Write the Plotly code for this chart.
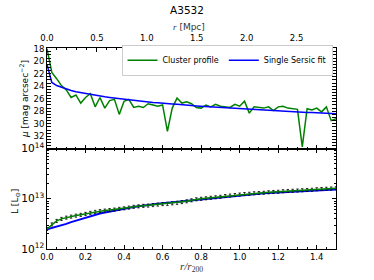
import plotly.graph_objects as go

# ---- data ----
r_r200 = [0.0, 0.025, 0.05, 0.075, 0.1, 0.125, 0.15, 0.175, 0.2, 0.225,
          0.25, 0.275, 0.3, 0.325, 0.35, 0.375, 0.4, 0.425, 0.45, 0.475,
          0.5, 0.525, 0.55, 0.575, 0.6, 0.625, 0.65, 0.675, 0.7, 0.725,
          0.75, 0.775, 0.8, 0.825, 0.85, 0.875, 0.9, 0.925, 0.95, 0.975,
          1.0, 1.025, 1.05, 1.075, 1.1, 1.125, 1.15, 1.175, 1.2, 1.225,
          1.25, 1.275, 1.3, 1.325, 1.35, 1.375, 1.4, 1.425, 1.45, 1.475, 1.5]

R200_MPC = 1.93  # r200 in Mpc (top axis scale)

mu_profile = [18.0, 21.8, 22.8, 23.9, 24.6, 25.8, 25.4, 26.7, 25.8, 25.2,
              27.3, 25.8, 27.5, 26.3, 26.1, 28.5, 26.4, 26.1, 27.4, 27.2,
              27.4, 26.8, 27.0, 27.2, 27.0, 31.2, 27.5, 25.9, 26.7, 26.5,
              26.8, 27.4, 27.5, 27.0, 27.3, 26.9, 27.2, 27.3, 27.4, 26.9,
              27.2, 26.4, 28.3, 27.3, 27.4, 27.5, 27.3, 27.9, 27.3, 27.2,
              27.5, 27.6, 27.7, 33.7, 27.6, 27.8, 27.5, 28.1, 27.3, 29.5, 29.2]

mu_sersic = [20.5, 23.4, 23.9, 24.2, 24.5, 24.7, 24.9, 25.05, 25.2, 25.35,
             25.5, 25.6, 25.7, 25.8, 25.9, 26.0, 26.1, 26.2, 26.3, 26.35,
             26.45, 26.5, 26.6, 26.65, 26.75, 26.8, 26.85, 26.9, 27.0, 27.05,
             27.1, 27.15, 27.2, 27.25, 27.3, 27.35, 27.4, 27.45, 27.5, 27.55,
             27.6, 27.65, 27.7, 27.75, 27.8, 27.8, 27.85, 27.9, 27.95, 28.0,
             28.0, 28.05, 28.1, 28.15, 28.2, 28.2, 28.25, 28.3, 28.3, 28.35, 28.4]

# cumulative luminosity, units of 1e12 Lsun
L_profile = [2.51, 3.09, 3.63, 3.98, 4.22, 4.42, 4.62, 4.79, 5.01, 5.25,
             5.50, 5.69, 5.82, 5.96, 6.10, 6.31, 6.46, 6.68, 6.92, 7.08,
             7.24, 7.33, 7.50, 7.67, 7.85, 7.94, 8.13, 8.32, 8.61, 8.91,
             9.33, 9.77, 10.00, 10.23, 10.47, 10.72, 10.96, 11.35, 11.61, 11.89,
             12.16, 12.45, 12.59, 12.88, 13.03, 13.18, 13.49, 13.65, 13.80, 14.13,
             14.29, 14.45, 14.62, 14.79, 14.96, 15.14, 15.49, 15.67, 15.85, 16.03, 16.22]

L_sersic = [2.455, 2.600, 2.754, 2.951, 3.162, 3.428, 3.673, 3.981, 4.266, 4.519,
            4.786, 5.070, 5.309, 5.559, 5.821, 6.095, 6.383, 6.607, 6.839, 7.079,
            7.328, 7.499, 7.762, 7.943, 8.128, 8.318, 8.511, 8.710, 8.913, 9.120,
            9.441, 9.661, 9.886, 10.12, 10.35, 10.59, 10.84, 11.09, 11.35, 11.61,
            11.89, 12.02, 12.30, 12.45, 12.59, 12.88, 13.03, 13.18, 13.49, 13.65,
            13.80, 13.96, 14.13, 14.29, 14.45, 14.62, 14.79, 14.96, 15.14, 15.14, 15.31]

L_err_percent = 7

GREEN = "#008000"
BLUE = "#0000ff"
FONT = "DejaVu Sans"

fig = go.Figure()

fig.add_trace(go.Scatter(x=r_r200, y=mu_profile, xaxis="x2", yaxis="y2",
                         mode="lines", name="Cluster profile",
                         line=dict(color=GREEN, width=1.5)))
fig.add_trace(go.Scatter(x=r_r200, y=mu_sersic, xaxis="x2", yaxis="y2",
                         mode="lines", name="Single Sersic fit",
                         line=dict(color=BLUE, width=1.5)))
# same fit expressed in Mpc, invisible: it only makes the top (Mpc) axis render
fig.add_trace(go.Scatter(x=[v * R200_MPC for v in r_r200], y=mu_sersic,
                         xaxis="x3", yaxis="y2", mode="lines", opacity=0,
                         showlegend=False, hoverinfo="skip",
                         line=dict(color=BLUE, width=1)))

fig.add_trace(go.Scatter(x=r_r200, y=[v * 1e12 for v in L_sersic], xaxis="x", yaxis="y",
                         mode="lines", showlegend=False,
                         line=dict(color=BLUE, width=2)))
fig.add_trace(go.Scatter(x=r_r200, y=[v * 1e12 for v in L_profile], xaxis="x", yaxis="y",
                         mode="lines", showlegend=False,
                         line=dict(color=GREEN, width=1.5),
                         error_y=dict(type="percent", value=L_err_percent,
                                      color="black", thickness=0.8, width=1.2)))

tickfont = dict(family=FONT, size=8.5, color="black")
common = dict(showline=True, linecolor="black", linewidth=1, showgrid=False,
              zeroline=False, ticks="inside", tickcolor="black", ticklen=4,
              tickwidth=0.8, tickfont=tickfont)

fig.update_layout(
    width=374, height=280,
    margin=dict(l=47, r=38, t=48, b=31),
    paper_bgcolor="white", plot_bgcolor="white",
    font=dict(family=FONT, size=9, color="black"),
    title=dict(text="A3532", x=0.5, xref="container", xanchor="center",
               y=1 - 10 / 280, yref="container", yanchor="middle",
               font=dict(family=FONT, size=10.5, color="black")),
    xaxis=dict(domain=[0, 1], range=[0, 1.5], anchor="y", dtick=0.2, tick0=0,
               tickformat=".1f", mirror="allticks",
               minor=dict(dtick=0.05, ticks="inside", ticklen=2, tickcolor="black"),
               **common),
    yaxis=dict(domain=[0, 0.5], type="log", range=[12, 14], anchor="x",
               dtick=1, exponentformat="power", mirror="allticks",
               minor=dict(dtick="D1", ticks="inside", ticklen=2, tickcolor="black"),
               **common),
    xaxis2=dict(domain=[0, 1], range=[0, 1.5], anchor="y2", matches="x",
                showticklabels=False, dtick=0.2, tick0=0,
                minor=dict(dtick=0.05, ticks="inside", ticklen=2, tickcolor="black"),
                **common),
    yaxis2=dict(domain=[0.5, 1], range=[33.95, 17.9], anchor="x2", dtick=2, tick0=18,
                mirror="allticks",
                minor=dict(dtick=0.5, ticks="inside", ticklen=2, tickcolor="black"),
                **common),
    xaxis3=dict(overlaying="x2", side="top", anchor="y2",
                range=[0, 1.5 * R200_MPC], dtick=0.5, tick0=0, tickformat=".1f",
                ticklabelstandoff=3,
                minor=dict(dtick=0.1, ticks="inside", ticklen=2, tickcolor="black"),
                **common),
    legend=dict(orientation="h", x=0.988, xanchor="right", y=1.016, yanchor="top",
                xref="paper", yref="paper",
                bgcolor="white", bordercolor="#cccccc", borderwidth=1,
                font=dict(family=FONT, size=8, color="black"), itemwidth=30),
    annotations=[
        dict(text="<span style=\"font-family:Liberation Serif\"><i>r</i></span> [Mpc]",
             xref="paper", yref="paper",
             x=0.491, y=(249 - 27) / 201, xanchor="center", yanchor="middle",
             showarrow=False, font=dict(family=FONT, size=9, color="#333333")),
        dict(text="<i>r/r</i><sub>200</sub>", xref="paper", yref="paper",
             x=0.5, y=(249 - 266.5) / 201, xanchor="center", yanchor="middle",
             showarrow=False, font=dict(family="Liberation Serif", size=11, color="#333333")),
        dict(text="<i>μ</i> [mag arcsec<sup>−2</sup>]", xref="paper", yref="paper",
             x=(24 - 47) / 289, y=(249 - 99) / 201, xanchor="center", yanchor="middle",
             textangle=-90, showarrow=False, font=dict(family=FONT, size=9, color="black")),
        dict(text="L [L<sub>⊙</sub>]", xref="paper", yref="paper",
             x=(15 - 47) / 289, y=(249 - 202) / 201, xanchor="center", yanchor="middle",
             textangle=-90, showarrow=False, font=dict(family=FONT, size=9, color="black")),
    ],
)

fig.write_html("out.html", config={"displayModeBar": False},
               post_script="document.body.style.margin='0';")
